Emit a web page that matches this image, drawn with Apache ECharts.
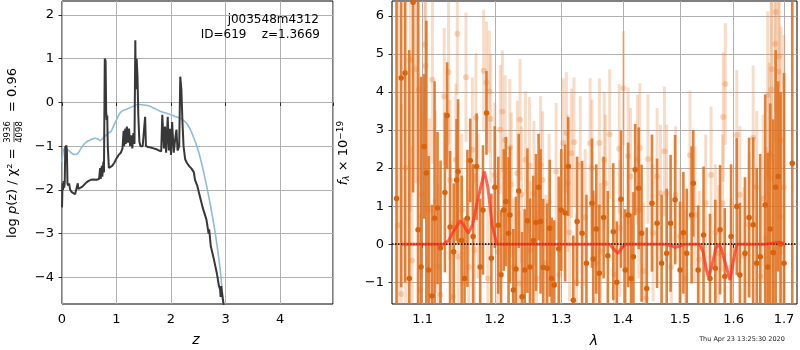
<!DOCTYPE html>
<html>
<head>
<meta charset="utf-8">
<script src="https://cdn.jsdelivr.net/npm/echarts@6/dist/echarts.min.js"></script>
<style>
  html, body { margin: 0; padding: 0; background: #fff; }
  #main { width: 800px; height: 350px; }
</style>
</head>
<body>
<div id="main"></div>
<script>
// ---- left panel: log p(z) ----
const zGrid = [0.00, 0.01, 0.02, 0.03, 0.04, 0.05, 0.06, 0.07, 0.08, 0.09, 0.10, 0.11, 0.13, 0.15, 0.18, 0.21, 0.24, 0.27, 0.29, 0.30,
  0.33, 0.38, 0.43, 0.48, 0.53, 0.58, 0.63, 0.68, 0.70, 0.71, 0.73, 0.74, 0.76, 0.77, 0.785, 0.80, 0.81, 0.82, 0.83, 0.84,
  0.86, 0.88, 0.92, 0.96, 1.00, 1.04, 1.08, 1.11, 1.13, 1.14, 1.16, 1.17, 1.19, 1.21, 1.23, 1.25, 1.27, 1.29, 1.31, 1.33,
  1.345, 1.355, 1.37, 1.385, 1.40, 1.42, 1.44, 1.48, 1.51, 1.525, 1.54, 1.58, 1.63, 1.68, 1.73, 1.78, 1.82, 1.84, 1.87, 1.89,
  1.91, 1.94, 1.96, 1.98, 2.00, 2.02, 2.05, 2.08, 2.10, 2.12, 2.15, 2.17, 2.19, 2.21, 2.23, 2.26, 2.29, 2.33, 2.38, 2.42,
  2.44, 2.48, 2.53, 2.58, 2.65, 2.69, 2.70, 2.73, 2.78, 2.84, 2.88, 2.90, 2.91, 2.92, 2.94, 2.96, 2.97];
const logpz = [-2.40, -1.85, -2.00, -1.80, -1.95, -1.85, -1.00, -1.05, -0.98, -1.10, -1.85, -1.90, -1.85, -2.00, -2.05, -2.08, -2.10, -2.08, -1.85, -1.98,
  -2.00, -1.92, -1.85, -1.80, -1.77, -1.76, -1.77, -1.75, -1.50, -1.75, -1.45, -1.70, -1.35, -1.60, 1.00, 0.95, -0.20, -0.40, -0.30, -1.00,
  -1.50, -1.48, -1.45, -1.38, -1.28, -1.20, -1.15, -1.05, -0.65, -1.00, -0.60, -0.95, -0.55, -0.92, -0.60, -1.00, -0.75, -1.05, -0.70, -0.95,
  1.42, 0.30, 1.00, 0.60, -0.30, -0.90, -1.00, -1.00, -0.98, -0.33, -1.00, -1.02, -1.03, -1.05, -1.07, -1.10, -1.12, -0.28, -1.05, -0.55,
  -1.15, -0.33, -1.10, -0.60, -1.20, -0.45, -1.15, -0.80, -0.62, -1.10, -1.00, 0.59, 0.30, -0.45, -1.00, -1.30, -1.38, -1.45, -1.52, -1.60,
  -1.77, -1.90, -2.15, -2.40, -2.68, -3.00, -2.90, -3.29, -3.55, -3.90, -4.20, -4.28, -4.45, -4.20, -4.40, -4.58, -4.70];
const zPrior = [0.00, 0.03, 0.06, 0.10, 0.15, 0.20, 0.25, 0.30, 0.35, 0.40, 0.45, 0.50, 0.55, 0.60, 0.65, 0.70, 0.75, 0.80, 0.85, 0.90,
  0.95, 1.00, 1.05, 1.10, 1.15, 1.20, 1.30, 1.40, 1.50, 1.60, 1.70, 1.80, 1.90, 2.00, 2.10, 2.20, 2.30, 2.40, 2.50, 2.60,
  2.70, 2.80, 2.90, 2.96, 3.00];
const logpPrior = [-1.35, -1.08, -1.05, -1.08, -1.13, -1.18, -1.19, -1.15, -1.05, -0.96, -0.90, -0.87, -0.84, -0.82, -0.83, -0.87, -0.82, -0.76, -0.70, -0.66,
  -0.53, -0.40, -0.27, -0.20, -0.17, -0.15, -0.09, -0.04, -0.06, -0.08, -0.14, -0.20, -0.24, -0.28, -0.33, -0.38, -0.50, -0.75, -1.10, -1.60,
  -2.20, -2.90, -3.80, -4.60, -5.20];
const zTicks = [0, 1, 2, 3, 4];
const logpTicks = [-4, -3, -2, -1, 0, 1, 2];

// ---- right panel: spectrum ----
const darkLam = [1.066, 1.072, 1.077, 1.0825, 1.0875, 1.094, 1.098, 1.102, 1.105, 1.108,
  1.1125, 1.116, 1.120, 1.124, 1.130, 1.133, 1.137, 1.142, 1.146, 1.148,
  1.153, 1.157, 1.161, 1.165, 1.169, 1.174, 1.179, 1.183, 1.188, 1.195,
  1.200, 1.205, 1.209, 1.213, 1.216, 1.220, 1.222, 1.227, 1.231, 1.235,
  1.240, 1.244, 1.248, 1.252, 1.257, 1.261, 1.265, 1.268, 1.272, 1.278,
  1.282, 1.285, 1.289, 1.296, 1.300, 1.306, 1.311, 1.319, 1.325, 1.333,
  1.340, 1.349, 1.351, 1.356, 1.361, 1.368, 1.375, 1.384, 1.390, 1.397,
  1.404, 1.409, 1.414, 1.418, 1.421, 1.427, 1.432, 1.441, 1.450, 1.459,
  1.467, 1.476, 1.483, 1.491, 1.500, 1.506, 1.512, 1.521, 1.524, 1.533,
  1.543, 1.555, 1.565, 1.574, 1.583, 1.595, 1.606, 1.612, 1.622, 1.630,
  1.638, 1.645, 1.652, 1.662, 1.667, 1.672, 1.678, 1.683, 1.688, 1.693,
  1.700, 1.717];
const darkFlux = [1.20, 4.37, 4.50, -0.90, 6.36, 0.38, -0.60, 2.57, 1.87, -0.68,
  -1.36, 0.68, 0.95, -0.10, 1.36, 3.38, 0.45, -0.20, 1.69, 1.91,
  0.10, -0.90, 0.68, 2.20, 0.20, 2.04, -0.60, 0.90, 3.45, -0.37,
  1.50, 0.50, -0.80, 0.90, 1.12, 0.29, 0.77, -1.20, -0.65, 1.40,
  -1.38, -0.68, 0.62, -0.60, 0.10, 0.57, 1.50, 0.60, -0.61, -0.63,
  0.42, -0.90, -1.07, -0.12, 0.90, 0.82, 2.04, -1.47, 0.60, 0.29,
  -0.50, 1.08, -0.39, 0.40, -0.76, 0.70, -0.30, 0.33, -1.00, 1.18,
  -0.68, 0.77, -0.90, -0.33, 1.96, 1.47, 0.29, -1.16, 1.08, 0.55,
  -0.50, -0.24, 0.55, 1.17, -0.68, 0.30, -0.24, 0.77, 1.60, -0.68,
  0.24, -0.90, -0.63, 0.38, -0.85, 0.20, 0.99, -0.81, -0.24, 0.70,
  0.51, -0.50, -0.33, 1.03, -0.60, 0.40, -0.22, 1.50, 1.78, 0.00,
  -0.50, 2.13];
const darkErr = [6.5, 5.5, 5.5, 6.0, 5.0, 6.0, 5.0, 1.9, 4.0, 3.0,
  2.4, 3.6, 2.0, 2.3, 2.1, 1.4, 2.0, 1.8, 1.6, 1.9,
  1.7, 1.6, 1.8, 1.1, 1.9, 1.4, 1.8, 1.7, 1.1, 1.7,
  1.6, 1.8, 1.7, 1.6, 1.7, 2.0, 1.8, 1.6, 1.9, 1.5,
  1.7, 1.6, 1.9, 1.8, 1.7, 1.8, 1.4, 1.9, 1.8, 1.7,
  1.8, 1.6, 1.7, 1.9, 1.6, 1.8, 1.3, 1.7, 1.7, 1.9,
  1.8, 1.7, 1.8, 1.7, 1.8, 1.6, 1.7, 1.8, 1.6, 1.8,
  1.6, 1.9, 1.7, 1.7, 1.2, 1.6, 1.8, 1.6, 1.8, 1.7,
  1.8, 1.7, 1.8, 1.7, 1.8, 1.6, 1.7, 1.8, 1.4, 1.7,
  1.8, 1.7, 1.8, 1.7, 1.8, 1.9, 1.8, 1.9, 2.0, 2.1,
  2.3, 2.5, 2.7, 2.9, 3.0, 3.3, 3.5, 3.6, 2.5, 4.0,
  5.0, 9.0];

const lightLam = [1.068, 1.072, 1.078, 1.084, 1.086, 1.091, 1.095, 1.097, 1.099, 1.103,
  1.104, 1.109, 1.113, 1.117, 1.121, 1.124, 1.129, 1.135, 1.137, 1.141,
  1.145, 1.147, 1.148, 1.153, 1.159, 1.163, 1.168, 1.171, 1.173, 1.176,
  1.184, 1.188, 1.190, 1.192, 1.194, 1.200, 1.204, 1.208, 1.211, 1.215,
  1.222, 1.224, 1.228, 1.233, 1.236, 1.237, 1.239, 1.245, 1.251, 1.252,
  1.258, 1.262, 1.268, 1.271, 1.276, 1.281, 1.292, 1.297, 1.303, 1.308,
  1.310, 1.313, 1.316, 1.320, 1.324, 1.330, 1.338, 1.346, 1.349, 1.355,
  1.361, 1.363, 1.369, 1.371, 1.378, 1.386, 1.394, 1.395, 1.401, 1.409,
  1.413, 1.425, 1.427, 1.429, 1.435, 1.440, 1.443, 1.452, 1.459, 1.465,
  1.472, 1.476, 1.484, 1.492, 1.500, 1.510, 1.518, 1.527, 1.535, 1.547,
  1.557, 1.565, 1.571, 1.579, 1.580, 1.584, 1.595, 1.606, 1.612, 1.620,
  1.630, 1.638, 1.645, 1.652, 1.658, 1.664, 1.667, 1.670, 1.674, 1.675,
  1.678, 1.682, 1.683, 1.689, 1.690, 1.692, 1.694, 1.700];
const lightFlux = [0.50, -1.31, 2.00, 4.85, -0.43, 4.60, 4.06, -1.20, 1.30, 5.24,
  4.69, 0.90, 4.32, 1.12, -0.60, -1.33, 3.88, 4.52, 1.69, -1.38,
  2.22, 5.53, -0.33, 0.90, 4.39, -0.60, 2.48, -0.15, 3.32, 1.00,
  4.56, 4.25, -0.90, 4.01, 3.29, 1.82, -0.20, 3.01, 3.49, 2.74,
  2.54, 1.56, -0.60, 1.87, -1.03, 3.27, 1.30, 2.22, 2.07, -0.15,
  1.34, -0.90, 2.09, 1.69, -0.50, 1.10, 1.91, -0.80, 2.66, 2.92,
  1.60, 0.31, 2.39, 2.68, -1.00, 2.09, 0.70, 2.66, 2.00, -0.50,
  2.66, -0.19, 2.21, 1.60, 2.89, -0.80, 2.51, 0.42, 4.10, 2.32,
  1.78, 2.22, 0.90, 2.53, -0.70, -1.42, 2.24, 0.30, 1.78, 1.34,
  2.44, 1.34, -0.60, 1.30, 0.20, -0.90, 2.34, 0.77, -0.40, 1.08,
  1.82, 0.30, -0.24, 1.08, 3.34, 4.21, -0.60, 2.87, 1.30, -0.30,
  0.51, 2.80, 1.50, -0.85, 1.20, 0.16, 3.92, 2.37, 4.06, 4.60,
  -0.24, 5.27, 6.10, 4.53, 4.94, 0.73, 2.72, 1.50];
const lightErr = [6.0, 5.0, 5.0, 4.0, 3.0, 3.0, 2.5, 2.0, 2.2, 2.0,
  2.2, 2.4, 2.2, 2.4, 2.2, 2.2, 1.8, 1.9, 2.1, 2.0,
  2.0, 1.6, 2.1, 2.0, 1.7, 2.0, 1.9, 2.0, 1.7, 1.9,
  1.6, 1.6, 1.9, 1.6, 1.7, 1.9, 1.9, 1.7, 1.6, 1.7,
  1.8, 1.9, 1.8, 1.9, 1.9, 1.6, 1.8, 1.8, 1.8, 1.8,
  1.9, 1.8, 1.8, 1.8, 1.8, 1.8, 1.8, 1.8, 1.7, 1.6,
  1.8, 1.8, 1.7, 1.7, 1.8, 1.8, 1.8, 1.7, 1.8, 1.8,
  1.7, 1.8, 1.8, 1.8, 1.7, 1.8, 1.7, 1.8, 1.5, 1.8,
  1.8, 1.7, 1.8, 1.7, 1.8, 1.8, 1.7, 1.8, 1.8, 1.8,
  1.7, 1.8, 1.8, 1.8, 1.8, 1.8, 1.7, 1.8, 1.8, 1.8,
  1.8, 1.8, 1.8, 1.8, 1.7, 1.6, 1.8, 1.7, 1.8, 1.8,
  1.9, 1.9, 2.0, 2.0, 2.2, 2.4, 2.2, 2.4, 2.4, 2.5,
  2.6, 2.6, 2.6, 2.7, 2.9, 3.2, 3.0, 4.0];

const modelLam = [1.073, 1.100, 1.128, 1.135, 1.142, 1.151, 1.156, 1.162, 1.168, 1.176, 1.185, 1.190, 1.196, 1.203,
  1.250, 1.300, 1.360, 1.378, 1.386, 1.392, 1.398, 1.405, 1.475, 1.485, 1.491, 1.497, 1.505, 1.515,
  1.536, 1.542, 1.548, 1.552, 1.558, 1.566, 1.571, 1.576, 1.584, 1.593, 1.600, 1.606, 1.660, 1.680, 1.690, 1.700];
const modelFlux = [0, 0, 0, 0.10, 0.35, 0.62, 0.50, 0.29, 0.50, 1.20, 1.91, 1.50, 0.50, 0,
  0, 0, 0, 0, -0.15, -0.24, -0.10, 0, 0, -0.05, -0.08, -0.06, -0.01, 0,
  0, -0.20, -0.65, -0.85, -0.60, -0.10, 0, -0.10, -0.50, -0.94, -0.40, 0, 0, 0.03, 0.05, 0.02];
const lamTicks = [1.1, 1.2, 1.3, 1.4, 1.5, 1.6, 1.7];
const fluxTicks = [-1, 0, 1, 2, 3, 4, 5, 6];

const FONT = 'DejaVu Sans';
const minus = v => (v < 0 ? '\u2212' + (-v) : String(v));
const lnLamMin = 0.05848, lnLamMax = 0.54628;

function errBars(lam, flux, err, color, opacity, width) {
  return {
    type: 'custom', xAxisIndex: 1, yAxisIndex: 1, silent: true,
    data: lam.map((l, i) => [Math.log(l), flux[i], err[i]]),
    encode: { x: 0, y: 1 },
    renderItem: function (params, api) {
      const x = api.value(0), y = api.value(1), e = api.value(2);
      const top = api.coord([x, y + e]);
      const bot = api.coord([x, y - e]);
      const cs = params.coordSys;
      const y1 = Math.max(top[1], cs.y);
      const y2 = Math.min(bot[1], cs.y + cs.height);
      if (y2 <= y1) return null;
      return {
        type: 'line',
        shape: { x1: top[0], y1: y1, x2: top[0], y2: y2 },
        style: { stroke: color, lineWidth: width, opacity: opacity }
      };
    }
  };
}

const chart = echarts.init(document.getElementById('main'));
const tickStyle = { show: true, inside: false, length: 3.5, lineStyle: { color: '#000', width: 0.8 } };
const labelStyle = { color: '#000', fontFamily: FONT, fontSize: 13 };
const splitStyle = { show: true, lineStyle: { color: '#b0b0b0', width: 1 } };

chart.setOption({
  animation: false,
  backgroundColor: '#fff',
  grid: [
    { left: 62, top: 1, width: 271, height: 303, show: true, borderColor: '#000', borderWidth: 1 },
    { left: 392, top: 1, width: 405, height: 303, show: true, borderColor: '#000', borderWidth: 1 }
  ],
  xAxis: [
    {
      gridIndex: 0, type: 'value', min: 0, max: 4.972, interval: 1,
      axisLine: { show: false }, axisTick: tickStyle, splitLine: splitStyle,
      axisLabel: Object.assign({ margin: 9, customValues: zTicks, formatter: minus }, labelStyle)
    },
    {
      gridIndex: 1, type: 'value', min: lnLamMin, max: lnLamMax,
      axisLine: { show: false },
      axisTick: Object.assign({ customValues: lamTicks.map(Math.log) }, tickStyle),
      splitLine: splitStyle,
      axisLabel: Object.assign({ margin: 9, customValues: lamTicks.map(Math.log),
        formatter: v => Math.exp(v).toFixed(1) }, labelStyle)
    }
  ],
  yAxis: [
    {
      gridIndex: 0, type: 'value', min: -4.61, max: 2.32,
      axisLine: { show: false },
      axisTick: Object.assign({ customValues: logpTicks }, tickStyle),
      splitLine: splitStyle,
      axisLabel: Object.assign({ margin: 8, customValues: logpTicks, formatter: minus }, labelStyle)
    },
    {
      gridIndex: 1, type: 'value', min: -1.57, max: 6.39,
      axisLine: { show: false },
      axisTick: Object.assign({ customValues: fluxTicks }, tickStyle),
      splitLine: splitStyle,
      axisLabel: Object.assign({ margin: 8, customValues: fluxTicks, formatter: minus }, labelStyle)
    }
  ],
  series: [
    {
      type: 'line', xAxisIndex: 0, yAxisIndex: 0, z: 2, silent: true,
      data: zPrior.map((z, i) => [z, logpPrior[i]]),
      symbol: 'none', smooth: 0.3,
      lineStyle: { color: '#8fbbd9', width: 1.6 }
    },
    {
      type: 'line', xAxisIndex: 0, yAxisIndex: 0, z: 3, silent: true,
      data: zGrid.map((z, i) => [z, logpz[i]]),
      symbol: 'none',
      lineStyle: { color: '#383838', width: 2 }
    },
    Object.assign(errBars(lightLam, lightFlux, lightErr, '#e88a48', 0.3, 3), { z: 2 }),
    {
      type: 'scatter', xAxisIndex: 1, yAxisIndex: 1, z: 3, silent: true,
      data: lightLam.map((l, i) => [Math.log(l), lightFlux[i]]),
      symbolSize: 6, itemStyle: { color: '#e88a48', opacity: 0.35 }
    },
    Object.assign(errBars(darkLam, darkFlux, darkErr, '#e0701c', 0.88, 2.6), { z: 4 }),
    {
      type: 'scatter', xAxisIndex: 1, yAxisIndex: 1, z: 5, silent: true,
      data: darkLam.map((l, i) => [Math.log(l), darkFlux[i]]),
      symbolSize: 5.5, itemStyle: { color: '#d9620c', opacity: 1 }
    },
    {
      type: 'line', xAxisIndex: 1, yAxisIndex: 1, z: 6, silent: true,
      data: modelLam.map((l, i) => [Math.log(l), modelFlux[i]]),
      symbol: 'none',
      lineStyle: { color: '#ff3322', width: 3, opacity: 0.75 }
    },
    {
      type: 'line', xAxisIndex: 1, yAxisIndex: 1, z: 8, silent: true,
      data: [],
      markLine: {
        silent: true, symbol: 'none', label: { show: false },
        lineStyle: { color: '#000', type: 'dotted', width: 1.5 },
        data: [{ yAxis: 0 }]
      }
    }
  ],
  graphic: [
    {
      type: 'group', rotation: Math.PI / 2, x: 13, y: 238,
      children: [
        { type: 'text', x: 0, y: 0, style: {
            text: '{n|log }{i|p}{n|(z) / χ² =}', align: 'left', verticalAlign: 'middle',
            textAlign: 'left', textVerticalAlign: 'middle',
            rich: { n: { fontFamily: FONT, fontSize: 13, color: '#000' },
                    i: { fontFamily: FONT, fontSize: 13, fontStyle: 'italic', color: '#000' } } } },
        { type: 'text', x: 106, y: -5, style: { text: '3936', font: '8.5px "DejaVu Sans"', fill: '#000',
            align: 'center', verticalAlign: 'middle', textAlign: 'center', textVerticalAlign: 'middle' } },
        { type: 'line', shape: { x1: 96, y1: 1, x2: 116, y2: 1 }, style: { stroke: '#000', lineWidth: 0.7 } },
        { type: 'text', x: 106, y: 7, style: { text: '4098', font: '8.5px "DejaVu Sans"', fill: '#000',
            align: 'center', verticalAlign: 'middle', textAlign: 'center', textVerticalAlign: 'middle' } },
        { type: 'text', x: 126, y: 0, style: { text: '= 0.96', font: '13px "DejaVu Sans"', fill: '#000',
            align: 'left', verticalAlign: 'middle', textAlign: 'left', textVerticalAlign: 'middle' } }
      ]
    },
    {
      type: 'text', rotation: Math.PI / 2, x: 344, y: 153,
      style: {
        text: '{i|f}{s|λ}{n| × 10}{p|−19}', align: 'center', verticalAlign: 'middle',
        textAlign: 'center', textVerticalAlign: 'middle',
        rich: {
          i: { fontFamily: FONT, fontSize: 13, fontStyle: 'italic', color: '#000' },
          s: { fontFamily: FONT, fontSize: 9, fontStyle: 'italic', color: '#000', verticalAlign: 'bottom', padding: [6, 0, 0, 0] },
          n: { fontFamily: FONT, fontSize: 13, color: '#000' },
          p: { fontFamily: FONT, fontSize: 9, color: '#000', verticalAlign: 'top', padding: [0, 0, 6, 0] }
        }
      }
    },
    { type: 'text', x: 196, y: 340, style: { text: 'z', font: 'italic 14px "DejaVu Sans"', fill: '#000',
        align: 'center', verticalAlign: 'middle', textAlign: 'center', textVerticalAlign: 'middle' } },
    { type: 'text', x: 594, y: 341, style: { text: 'λ', font: 'italic 14px "DejaVu Sans"', fill: '#000',
        align: 'center', verticalAlign: 'middle', textAlign: 'center', textVerticalAlign: 'middle' } },
    { type: 'text', x: 319, y: 20, z: 100, style: { text: 'j003548m4312', font: '12px "DejaVu Sans"', fill: '#000',
        align: 'right', verticalAlign: 'middle', textAlign: 'right', textVerticalAlign: 'middle' } },
    { type: 'text', x: 320, y: 35, z: 100, style: { text: 'ID=619    z=1.3669', font: '12px "DejaVu Sans"', fill: '#000',
        align: 'right', verticalAlign: 'middle', textAlign: 'right', textVerticalAlign: 'middle' } },
    { type: 'text', x: 742, y: 339, style: { text: 'Thu Apr 23 13:25:30 2020', font: '6.5px "DejaVu Sans"', fill: '#222',
        align: 'center', verticalAlign: 'middle', textAlign: 'center', textVerticalAlign: 'middle' } }
  ]
});
</script>
</body>
</html>
